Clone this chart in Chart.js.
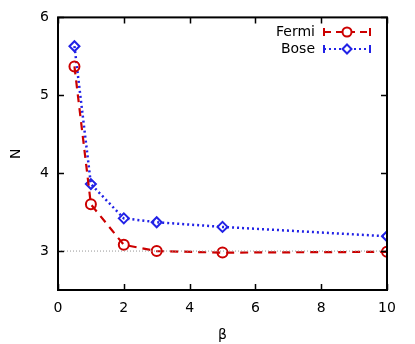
<!DOCTYPE html>
<html>
<head>
<meta charset="utf-8">
<script src="https://cdn.jsdelivr.net/npm/chart.js@4/dist/chart.umd.min.js"></script>
<style>
html,body{margin:0;padding:0;background:#fff;}
#wrap{width:415px;height:344px;}
</style>
</head>
<body>
<div id="wrap"><canvas id="c" width="415" height="344"></canvas></div>
<script>
const beta = [0.5, 1, 2, 3, 5, 10];
const fermi = [5.37, 3.60, 3.08, 3.00, 2.98, 2.99];
const bose = [5.63, 3.86, 3.42, 3.37, 3.31, 3.19];
const refX = [0, 10];
const refY = [3, 3];
const xTicks = [0, 2, 4, 6, 8, 10];
const yTicks = [3, 4, 5, 6];
const seriesNames = ['Fermi', 'Bose'];

const RED = 'rgb(204,0,0)';
const BLUE = 'rgb(34,34,230)';
const FONT = 'DejaVu Sans';

const framePlugin = {
  id: 'frame',
  afterDatasetsDraw(chart) {
    const ctx = chart.ctx, a = chart.chartArea;
    const xs = chart.scales.x, ys = chart.scales.y;
    ctx.save();
    ctx.strokeStyle = '#000';
    ctx.lineWidth = 1.5;
    const L = 6;
    ctx.beginPath();
    xTicks.forEach(v => {
      const px = Math.round(xs.getPixelForValue(v)) + 0.5;
      ctx.moveTo(px, a.bottom); ctx.lineTo(px, a.bottom - L);
      ctx.moveTo(px, a.top); ctx.lineTo(px, a.top + L);
    });
    yTicks.forEach(v => {
      const py = Math.round(ys.getPixelForValue(v)) + 0.5;
      ctx.moveTo(a.left, py); ctx.lineTo(a.left + L, py);
      ctx.moveTo(a.right, py); ctx.lineTo(a.right - L, py);
    });
    ctx.stroke();
    ctx.lineWidth = 2;
    ctx.strokeRect(a.left, a.top, a.right - a.left, a.bottom - a.top);
    // legend
    ctx.font = '14px "' + FONT + '"';
    ctx.textAlign = 'right';
    ctx.textBaseline = 'middle';
    ctx.fillStyle = '#000';
    const tx = 315, sx0 = 324, sx1 = 370;
    const rows = [
      {y: 32, name: seriesNames[0], color: RED, dash: [7, 5], style: 'circle'},
      {y: 49, name: seriesNames[1], color: BLUE, dash: [2, 3], style: 'diamond'}
    ];
    rows.forEach(r => {
      ctx.fillStyle = '#000';
      ctx.fillText(r.name, tx, r.y);
      ctx.strokeStyle = r.color;
      ctx.lineWidth = 2;
      ctx.setLineDash(r.dash);
      ctx.beginPath(); ctx.moveTo(sx0, r.y); ctx.lineTo(sx1, r.y); ctx.stroke();
      ctx.setLineDash([]);
      ctx.beginPath(); ctx.moveTo(sx0, r.y - 4); ctx.lineTo(sx0, r.y + 4);
      ctx.moveTo(sx1, r.y - 4); ctx.lineTo(sx1, r.y + 4); ctx.stroke();
      const cx = (sx0 + sx1) / 2;
      ctx.fillStyle = '#fff';
      ctx.beginPath();
      if (r.style === 'circle') ctx.arc(cx, r.y, 4.5, 0, Math.PI * 2);
      else { ctx.moveTo(cx, r.y - 4.5); ctx.lineTo(cx + 4.5, r.y); ctx.lineTo(cx, r.y + 4.5); ctx.lineTo(cx - 4.5, r.y); ctx.closePath(); }
      ctx.fill(); ctx.stroke();
    });
    ctx.restore();
  }
};

new Chart(document.getElementById('c'), {
  type: 'line',
  data: {
    datasets: [
      {
        label: 'ref',
        data: refX.map((x, i) => ({x, y: refY[i]})),
        borderColor: 'rgb(150,150,150)',
        borderWidth: 1,
        borderDash: [1, 2],
        pointRadius: 0,
        fill: false
      },
      {
        label: seriesNames[0],
        data: beta.map((x, i) => ({x, y: fermi[i]})),
        borderColor: RED,
        backgroundColor: 'rgba(255,255,255,0)',
        borderWidth: 2.2,
        borderDash: [8, 6],
        pointStyle: 'circle',
        pointRadius: 5,
        pointBorderWidth: 2,
        pointBorderColor: RED,
        pointBackgroundColor: 'rgba(255,255,255,0)',
        fill: false,
        tension: 0
      },
      {
        label: seriesNames[1],
        data: beta.map((x, i) => ({x, y: bose[i]})),
        borderColor: BLUE,
        borderWidth: 2.5,
        borderDash: [2, 3],
        pointStyle: 'rectRot',
        pointRadius: 5,
        pointBorderWidth: 2,
        pointBorderColor: BLUE,
        pointBackgroundColor: 'rgba(255,255,255,0)',
        fill: false,
        tension: 0
      }
    ]
  },
  options: {
    responsive: false,
    animation: false,
    devicePixelRatio: 1,
    layout: {padding: {top: 17, right: 28, left: 0, bottom: 0}},
    plugins: {legend: {display: false}, tooltip: {enabled: false}},
    scales: {
      x: {
        type: 'linear', min: 0, max: 10,
        afterBuildTicks: s => { s.ticks = xTicks.map(v => ({value: v})); },
        afterFit: s => { s.height = 54; },
        grid: {display: false, drawTicks: false},
        border: {display: false},
        ticks: {color: '#000', font: {family: FONT, size: 14}, padding: 10, maxRotation: 0},
        title: {display: true, text: 'β', color: '#000', font: {family: FONT, size: 14}, padding: {top: 4, bottom: 0}}
      },
      y: {
        type: 'linear', min: 2.5, max: 6,
        afterBuildTicks: s => { s.ticks = yTicks.map(v => ({value: v})); },
        afterFit: s => { s.width = 58; },
        grid: {display: false, drawTicks: false},
        border: {display: false},
        ticks: {color: '#000', font: {family: FONT, size: 14}, padding: 9},
        title: {display: true, text: 'N', color: '#000', font: {family: FONT, size: 14}, padding: {top: 8, bottom: 0}}
      }
    }
  },
  plugins: [framePlugin]
});
</script>
</body>
</html>
